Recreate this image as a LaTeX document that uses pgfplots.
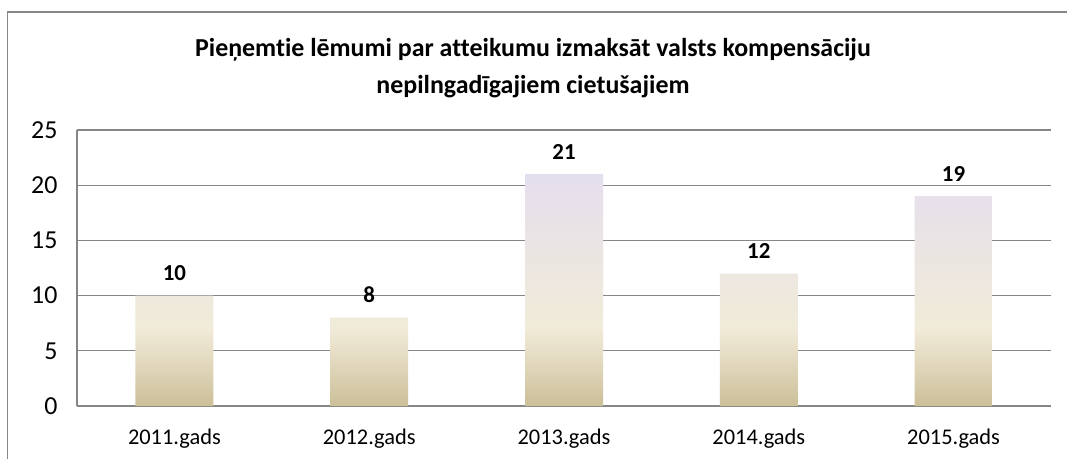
\documentclass[border=0pt]{standalone}
\usepackage{pgfplots}
\pgfplotsset{compat=1.18}
\usepackage{fontspec}
\setmainfont{Carlito}[Ligatures={NoCommon}]
\definecolor{gridc}{RGB}{134,134,134}
\definecolor{frame}{RGB}{135,135,135}
\definecolor{barbot}{RGB}{204,191,152}
\definecolor{barmid}{RGB}{241,235,217}
\definecolor{bartop}{RGB}{228,223,237}
\pgfdeclareverticalshading{barshade}{100bp}{color(0bp)=(barbot); color(25bp)=(barbot); color(34bp)=(barmid!55!barbot); color(42bp)=(barmid); color(75bp)=(bartop); color(100bp)=(bartop)}
\begin{document}
\begin{tikzpicture}
\useasboundingbox (0,0) rectangle (1067bp,459bp);
\clip (0,0) rectangle (1067bp,459bp);
\fill[white] (0,0) rectangle (1067bp,459bp);
\draw[frame, line width=1.2bp] (7.5bp,-20bp) rectangle (1090bp,447bp);
\begin{axis}[
  at={(77bp,53bp)}, anchor=south west,
  scale only axis, width=974bp, height=276bp,
  xmin=-0.5, xmax=4.5, ymin=0, ymax=25,
  ytick={0,5,10,15,20,25},
  xtick=data,
  xticklabels={2011.gads,2012.gads,2013.gads,2014.gads,2015.gads},
  axis line style={draw=none},
  ymajorgrids,
  grid style={gridc, line width=1.1bp},
  major tick length=0pt,
  xticklabel style={font=\fontsize{22.5}{26}\selectfont, anchor=base, yshift=-38.5bp},
  yticklabel style={font=\fontsize{26}{30}\selectfont, xshift=-16bp},
  /pgf/number format/assume math mode=true,
  ybar, bar width=78bp,
  nodes near coords,
  every node near coord/.append style={font=\bfseries\fontsize{23}{26}\selectfont, yshift=11bp},
  clip=false,
]
\draw[gridc, line width=1.1bp] (axis cs:-0.5,0) -- (axis cs:-0.5,25);
\addplot[draw=none, shading=barshade, bar shift=0pt] coordinates {(0,10) (1,8) (2,21) (3,12) (4,19)};
\end{axis}
\node[font=\bfseries\fontsize{26}{30}\selectfont] at (533bp,409bp) {Pieņemtie lēmumi par atteikumu izmaksāt valsts kompensāciju};
\node[font=\bfseries\fontsize{26}{30}\selectfont] at (533bp,372bp) {nepilngadīgajiem cietušajiem};
\end{tikzpicture}
\end{document}
